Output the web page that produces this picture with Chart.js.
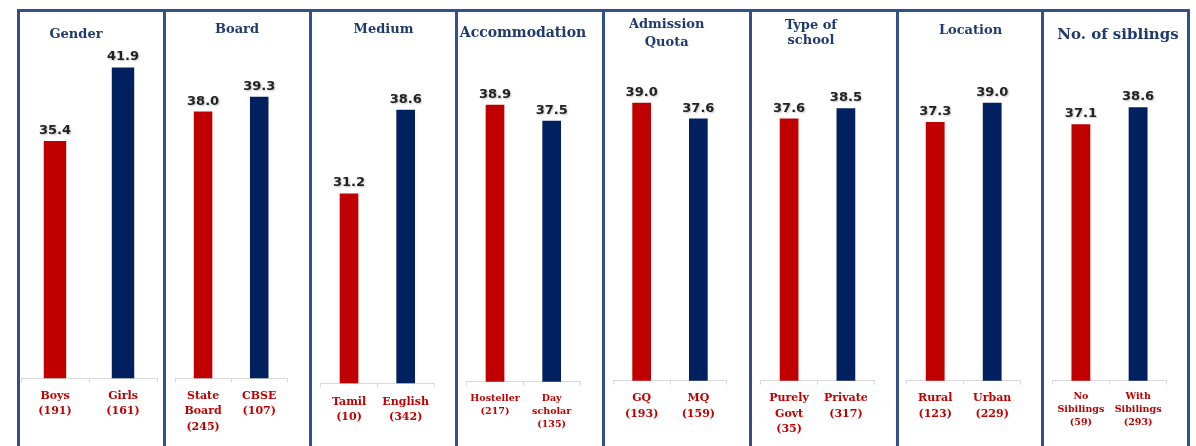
<!DOCTYPE html>
<html>
<head>
<meta charset="utf-8">
<script src="https://cdn.jsdelivr.net/npm/chart.js@4/dist/chart.umd.min.js"></script>
<style>
  html, body { margin: 0; padding: 0; background: #fff; }
  body { width: 1196px; height: 446px; position: relative; overflow: hidden; }
  .panel { position: absolute; top: 9px; height: 460px; box-sizing: border-box;
           border: 3px solid #33508d; border-bottom: none; }
  .title { position: absolute; width: 200px; text-align: center; color: #1f3a6e;
           font-family: "DejaVu Serif", serif; font-weight: bold; font-size: 13px; }
  canvas { position: absolute; top: 12px; }
</style>
</head>
<body>
<script>
// panel headings and bar groups, left to right
const panelTitles = ['Gender', 'Board', 'Medium', 'Accommodation', 'Admission<br>Quota',
  'Type of<br>school', 'Location', 'No. of siblings'];

const panelLabels = [
  [['Boys', '(191)'], ['Girls', '(161)']],
  [['State', 'Board', '(245)'], ['CBSE', '(107)']],
  [['Tamil', '(10)'], ['English', '(342)']],
  [['Hosteller', '(217)'], ['Day', 'scholar', '(135)']],
  [['GQ', '(193)'], ['MQ', '(159)']],
  [['Purely', 'Govt', '(35)'], ['Private', '(317)']],
  [['Rural', '(123)'], ['Urban', '(229)']],
  [['No', 'Sibilings', '(59)'], ['With', 'Sibilings', '(293)']]
];

const panelValues = [
  [35.4, 41.9],
  [38.0, 39.3],
  [31.2, 38.6],
  [38.9, 37.5],
  [39.0, 37.6],
  [37.6, 38.5],
  [37.3, 39.0],
  [37.1, 38.6]
];

const barColors = ['#c00000', '#002060'];
const Y_MIN = 14.4;
const Y_MAX = 43.0;

// layout of each box: border edges, plot padding, title placement
const panelBox = [
  { left: 18, right: 164, pad: { left: 1, right: 6, top: 43, bottom: 11.7 }, tx: 76, ty: 26, lh: 16, fs: 13, lf: 11, llh: 15.5, tp: 6 },
  { left: 164, right: 310, pad: { left: 9, right: 21.7, top: 43, bottom: 11.7 }, tx: 237, ty: 21, lh: 16, fs: 13, lf: 11, llh: 15.5, tp: 6 },
  { left: 310, right: 456, pad: { left: 8.7, right: 21, top: 48, bottom: 6.7 }, tx: 383.5, ty: 20.5, lh: 16, fs: 13, lf: 11, llh: 15.5, tp: 7 },
  { left: 456, right: 603, pad: { left: 8.7, right: 22, top: 46.5, bottom: 8.3 }, tx: 523, ty: 24, lh: 16, fs: 14, lf: 9.5, llh: 13, tp: 6 },
  { left: 603, right: 750, pad: { left: 8.3, right: 22.3, top: 45.5, bottom: 9.3 }, tx: 666.7, ty: 15, lh: 17.7, fs: 13, lf: 11, llh: 15.5, tp: 6 },
  { left: 750, right: 897, pad: { left: 8.7, right: 21.7, top: 45.5, bottom: 9.3 }, tx: 811, ty: 16.7, lh: 15.5, fs: 13, lf: 11, llh: 15.5, tp: 6 },
  { left: 897, right: 1042, pad: { left: 7.7, right: 20.3, top: 45.5, bottom: 9.3 }, tx: 970.5, ty: 22, lh: 16, fs: 13, lf: 11, llh: 15.5, tp: 6 },
  { left: 1042, right: 1188, pad: { left: 8.3, right: 20.3, top: 45.5, bottom: 9.3 }, tx: 1118, ty: 24.5, lh: 18, fs: 15, lf: 9.5, llh: 13, tp: 5 }
];

// value printed above each bar
const valueLabels = {
  id: 'valueLabels',
  afterDatasetsDraw(chart) {
    const ctx = chart.ctx;
    ctx.save();
    ctx.font = 'bold 13px "DejaVu Sans", sans-serif';
    ctx.fillStyle = '#222';
    ctx.textAlign = 'center';
    ctx.textBaseline = 'alphabetic';
    ctx.shadowColor = 'rgba(0,0,0,0.25)';
    ctx.shadowBlur = 2;
    ctx.shadowOffsetX = 1;
    ctx.shadowOffsetY = 1;
    chart.getDatasetMeta(0).data.forEach((bar, i) => {
      const v = chart.data.datasets[0].data[i];
      ctx.fillText(v.toFixed(1), bar.x, bar.y - 7);
    });
    ctx.restore();
  }
};

panelBox.forEach((box, p) => {
  const frame = document.createElement('div');
  frame.className = 'panel';
  frame.style.left = (box.left - 1) + 'px';
  frame.style.width = (box.right - box.left + 3) + 'px';
  document.body.appendChild(frame);

  const canvas = document.createElement('canvas');
  const w = box.right - box.left - 3;
  canvas.width = w;
  canvas.height = 434;
  canvas.style.left = (box.left + 2) + 'px';
  canvas.style.width = w + 'px';
  canvas.style.height = '434px';
  document.body.appendChild(canvas);

  const title = document.createElement('div');
  title.className = 'title';
  title.innerHTML = panelTitles[p];
  title.style.left = (box.tx - 100) + 'px';
  title.style.top = box.ty + 'px';
  title.style.lineHeight = box.lh + 'px';
  title.style.fontSize = box.fs + 'px';
  document.body.appendChild(title);

  new Chart(canvas.getContext('2d'), {
    type: 'bar',
    data: {
      labels: panelLabels[p],
      datasets: [{
        data: panelValues[p],
        backgroundColor: barColors,
        barPercentage: 0.33,
        categoryPercentage: 1
      }]
    },
    options: {
      responsive: false,
      animation: false,
      layout: { padding: box.pad },
      plugins: { legend: { display: false }, tooltip: { enabled: false } },
      scales: {
        x: {
          grid: { display: true, drawOnChartArea: false, tickLength: 4, color: '#d9d9d9', offset: true },
          border: { display: true, color: '#d9d9d9' },
          ticks: {
            color: '#c00000',
            padding: box.tp,
            maxRotation: 0,
            autoSkip: false,
            font: { family: '"DejaVu Serif", serif', weight: 'bold', size: box.lf, lineHeight: box.llh / box.lf }
          },
          afterFit(scale) { scale.height = 56; }
        },
        y: { display: false, min: Y_MIN, max: Y_MAX }
      }
    },
    plugins: [valueLabels]
  });
});
</script>
</body>
</html>
